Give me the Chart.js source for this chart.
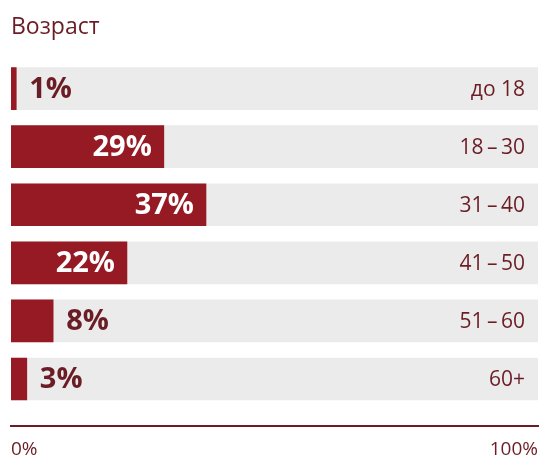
<!DOCTYPE html>
<html>
<head>
<meta charset="utf-8">
<script src="https://cdn.jsdelivr.net/npm/chart.js@4"></script>
<style>
  body { margin: 0; background: #fff; }
  #wrap { width: 542px; height: 459px; }
</style>
</head>
<body>
<div id="wrap"><canvas id="ageChart"></canvas></div>
<script>
// age groups and share of respondents, %
var categories = ['до 18', '18\u2009–\u200930', '31\u2009–\u200940', '41\u2009–\u200950', '51\u2009–\u200960', '60+'];
var shares = [1, 29, 37, 22, 8, 3];
var fullScale = [100, 100, 100, 100, 100, 100];   // grey background track
var axisTicks = [0, 100];

var red = '#951a24';
var grey = '#ebebeb';
var ink = '#6b1d25';
var FONT = "'Open Sans', sans-serif";

// percent labels on the bars + group names at the right end of the grey track
const barLabels = {
  id: 'barLabels',
  afterDatasetsDraw(chart) {
    const ctx = chart.ctx;
    const meta = chart.getDatasetMeta(0);
    const track = chart.getDatasetMeta(1);
    ctx.save();
    ctx.textBaseline = 'middle';
    meta.data.forEach((bar, i) => {
      const v = shares[i];
      const txt = v + '%';
      ctx.font = 'bold 29px ' + FONT;
      if (v >= 15) {
        ctx.fillStyle = '#fff';
        ctx.textAlign = 'right';
        ctx.fillText(txt, bar.x - 12, bar.y + 1);
      } else {
        ctx.fillStyle = ink;
        ctx.textAlign = 'left';
        ctx.fillText(txt, bar.x + 13, bar.y + 1);
      }
      ctx.font = '21px ' + FONT;
      ctx.fillStyle = ink;
      ctx.textAlign = 'right';
      ctx.fillText(categories[i], track.data[i].x - 13, bar.y + 1);
    });
    ctx.restore();
  }
};

const data = {
  datasets: [{
    label: 'Доля',
    data: shares.map((v, i) => ({x: v, y: i})),
    backgroundColor: red,
    barThickness: 42,
    grouped: false,
    order: 1
  },
  {
    label: 'Фон',
    data: fullScale.map((v, i) => ({x: v, y: i})),
    backgroundColor: grey,
    barThickness: 42,
    grouped: false,
    order: 2
  }]
};

const config = {
  type: 'bar',
  data: data,
  plugins: [barLabels],
  options: {
    indexAxis: 'y',
    responsive: true,
    maintainAspectRatio: false,
    animation: false,
    layout: { padding: { left: 11, right: 4, top: 0, bottom: 0 } },
    plugins: {
      legend: { display: false },
      tooltip: { enabled: false },
      title: {
        display: true,
        text: 'Возраст',
        align: 'start',
        color: ink,
        font: { family: FONT, size: 23, weight: 'normal' },
        padding: { top: 14, bottom: 18 }
      }
    },
    scales: {
      x: {
        type: 'linear',
        min: 0,
        max: 100,
        grid: { display: false, drawTicks: false },
        border: { display: true, color: ink, width: 2 },
        afterBuildTicks: s => { s.ticks = axisTicks.map(v => ({value: v})); },
        afterFit: s => { s.height = 33; s.paddingLeft = 0; s.paddingRight = 0; },
        ticks: {
          align: 'inner',
          color: ink,
          padding: 12,
          font: { family: FONT, size: 19 },
          callback: v => v + '%'
        }
      },
      y: {
        type: 'linear',
        display: false,
        offset: false,
        reverse: true,
        min: -0.5,
        max: 5.81
      }
    }
  }
};

const ageChart = new Chart(document.getElementById('ageChart'), config);
</script>
</body>
</html>
